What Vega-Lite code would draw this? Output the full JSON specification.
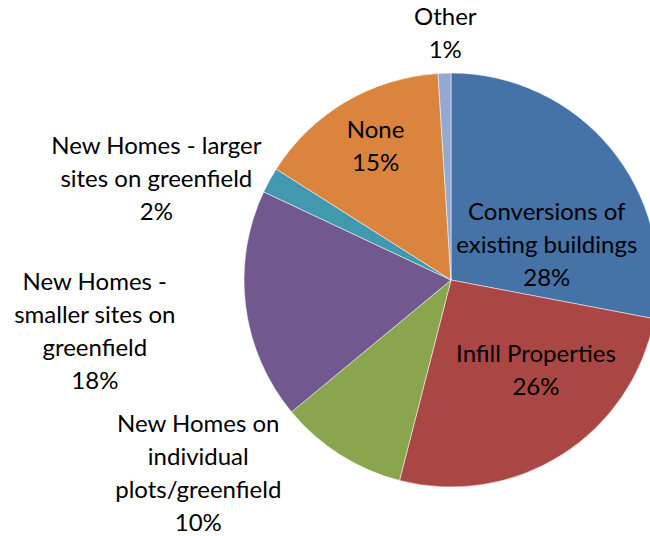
{
  "$schema": "https://vega.github.io/schema/vega-lite/v6.json",
  "width": 650,
  "height": 536,
  "autosize": {"type": "none"},
  "padding": 0,
  "background": "white",
  "view": {"stroke": null},
  "config": {"text": {"font": "Lato", "fontSize": 24, "lineHeight": 33, "color": "#000000", "lineBreak": "\n", "baseline": "middle", "align": "center"}},
  "data": {
    "values": [
      {"order": 1, "label": "Conversions of existing buildings", "value": 28, "text": "Conversions of\nexisting buildings\n28%"},
      {"order": 2, "label": "Infill Properties", "value": 26, "text": "Infill Properties\n26%"},
      {"order": 3, "label": "New Homes on individual plots/greenfield", "value": 10, "text": "New Homes on\nindividual\nplots/greenfield\n10%"},
      {"order": 4, "label": "New Homes - smaller sites on greenfield", "value": 18, "text": "New Homes -\nsmaller sites on\ngreenfield\n18%"},
      {"order": 5, "label": "New Homes - larger sites on greenfield", "value": 2, "text": "New Homes - larger\nsites on greenfield\n2%"},
      {"order": 6, "label": "None", "value": 15, "text": "None\n15%"},
      {"order": 7, "label": "Other", "value": 1, "text": "Other\n1%"}
    ]
  },
  "encoding": {
    "theta": {"field": "value", "type": "quantitative", "stack": true},
    "order": {"field": "order", "type": "quantitative"},
    "detail": {"field": "label", "type": "nominal"}
  },
  "layer": [
    {
      "mark": {"type": "arc", "x": 451, "y": 280, "outerRadius": 207, "stroke": "white", "strokeWidth": 0.5},
      "encoding": {
        "color": {
          "field": "label", "type": "nominal", "legend": null,
          "scale": {
            "domain": ["Conversions of existing buildings", "Infill Properties", "New Homes on individual plots/greenfield", "New Homes - smaller sites on greenfield", "New Homes - larger sites on greenfield", "None", "Other"],
            "range": ["#4572A7", "#AA4643", "#89A54E", "#71588F", "#4198AF", "#DB843D", "#93A9CF"]
          }
        }
      }
    },
    {
      "mark": {"type": "text", "x": 451, "y": 280, "radius": 110, "dx": 11, "dy": 3},
      "encoding": {"text": {"condition": {"test": "datum.order == 1", "field": "text"}, "value": ""}}
    },
    {
      "mark": {"type": "text", "x": 451, "y": 280, "radius": 110, "dx": 26, "dy": -18},
      "encoding": {"text": {"condition": {"test": "datum.order == 2", "field": "text"}, "value": ""}}
    },
    {
      "mark": {"type": "text", "x": 451, "y": 280, "radius": 300, "dx": -92, "dy": -108},
      "encoding": {"text": {"condition": {"test": "datum.order == 3", "field": "text"}, "value": ""}}
    },
    {
      "mark": {"type": "text", "x": 451, "y": 280, "radius": 358, "dx": -1, "dy": -42},
      "encoding": {"text": {"condition": {"test": "datum.order == 4", "field": "text"}, "value": ""}}
    },
    {
      "mark": {"type": "text", "x": 451, "y": 280, "radius": 310, "dx": -23, "dy": 16},
      "encoding": {"text": {"condition": {"test": "datum.order == 5", "field": "text"}, "value": ""}}
    },
    {
      "mark": {"type": "text", "x": 451, "y": 280, "radius": 152, "dx": 2, "dy": -18},
      "encoding": {"text": {"condition": {"test": "datum.order == 6", "field": "text"}, "value": ""}}
    },
    {
      "mark": {"type": "text", "x": 451, "y": 280, "radius": 246, "dx": 2, "dy": -16},
      "encoding": {"text": {"condition": {"test": "datum.order == 7", "field": "text"}, "value": ""}}
    }
  ]
}
